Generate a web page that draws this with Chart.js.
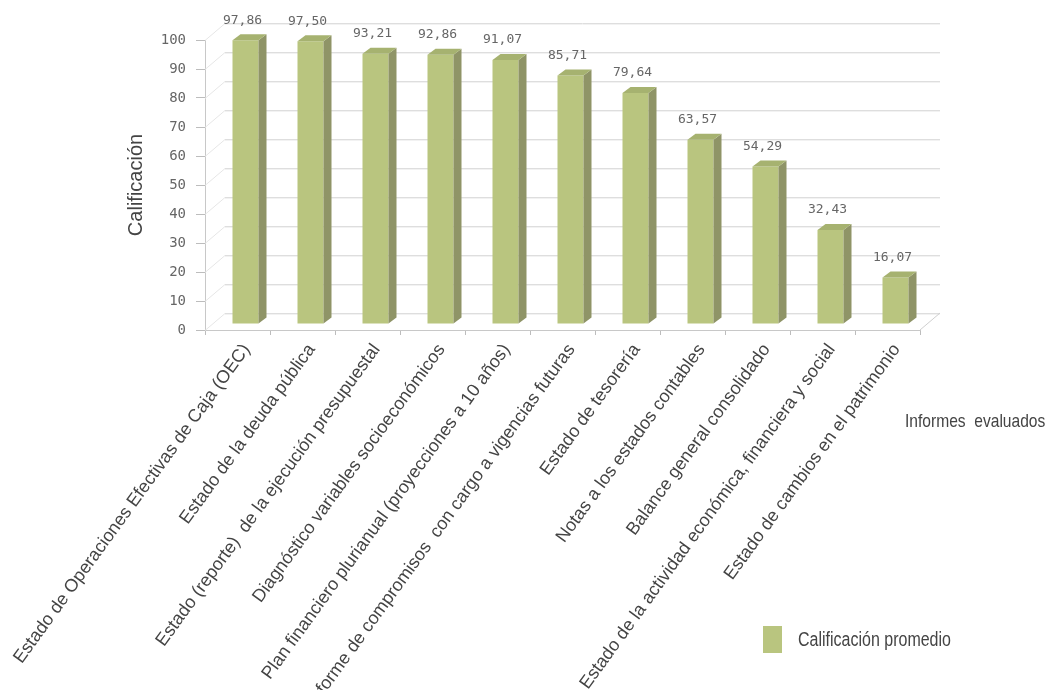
<!DOCTYPE html>
<html>
<head>
<meta charset="utf-8">
<script src="https://cdn.jsdelivr.net/npm/chart.js@4"></script>
<style>
  html, body { margin: 0; padding: 0; background: #fff; }
  .chart-container { position: relative; width: 1049px; height: 690px; }
</style>
</head>
<body>
<div class="chart-container">
  <canvas id="chart"></canvas>
</div>
<script>
const categories = [
  'Estado de Operaciones Efectivas de Caja (OEC)',
  'Estado de la deuda pública',
  'Estado (reporte)  de la ejecución presupuestal',
  'Diagnóstico variables socioeconómicos',
  'Plan financiero plurianual (proyecciones a 10 años)',
  'Informe de compromisos  con cargo a vigencias futuras',
  'Estado de tesorería',
  'Notas a los estados contables',
  'Balance general consolidado',
  'Estado de la actividad económica, financiera y social',
  'Estado de cambios en el patrimonio'
];
const scores = [97.86, 97.50, 93.21, 92.86, 91.07, 85.71, 79.64, 63.57, 54.29, 32.43, 16.07];
const yTicks = [0, 10, 20, 30, 40, 50, 60, 70, 80, 90, 100];
const seriesName = 'Calificación promedio';
const xTitle = 'Informes  evaluados';
const yTitle = 'Calificación';

const FRONT = '#b9c57f';
const SIDE = '#8f9467';
const TOP = '#a6b270';

// depth of the fake 3D box (back wall) and of the bars
const WALL = { dx: 20, dy: 17 };
const BAR = { dx: 8, dy: 6 };

const fmt = v => v.toFixed(2).replace('.', ',');

// back wall grid + side/floor lines, drawn under the bars
const wallPlugin = {
  id: 'wall',
  beforeDatasetsDraw(chart) {
    const { ctx, chartArea: a, scales: { y } } = chart;
    ctx.save();
    ctx.lineWidth = 1;
    yTicks.forEach(v => {
      const py = Math.round(y.getPixelForValue(v)) + 0.5;
      ctx.strokeStyle = '#f2f2f2';
      ctx.beginPath();
      ctx.moveTo(a.left + WALL.dx, py - WALL.dy + 1);
      ctx.lineTo(a.right + WALL.dx, py - WALL.dy + 1);
      ctx.stroke();
      ctx.strokeStyle = '#dedede';
      ctx.beginPath();
      ctx.moveTo(a.left + WALL.dx, py - WALL.dy);
      ctx.lineTo(a.right + WALL.dx, py - WALL.dy);
      ctx.stroke();
      ctx.strokeStyle = '#e6e6e6';
      ctx.beginPath();
      ctx.moveTo(a.left, py);
      ctx.lineTo(a.left + WALL.dx, py - WALL.dy);
      ctx.stroke();
    });
    ctx.strokeStyle = '#cfcfcf';
    ctx.beginPath();
    ctx.moveTo(a.right, a.bottom);
    ctx.lineTo(a.right + WALL.dx, a.bottom - WALL.dy);
    ctx.stroke();
    ctx.restore();
    // shift bars to the middle of the box depth
    ctx.save();
    ctx.translate(BAR.dx, -BAR.dy);
  },
  afterDatasetsDraw(chart) {
    const { ctx } = chart;
    const meta = chart.getDatasetMeta(0);
    meta.data.forEach(bar => {
      const l = bar.x - bar.width / 2, r = bar.x + bar.width / 2;
      ctx.fillStyle = SIDE;
      ctx.beginPath();
      ctx.moveTo(r, bar.y);
      ctx.lineTo(r + BAR.dx, bar.y - BAR.dy);
      ctx.lineTo(r + BAR.dx, bar.base - BAR.dy);
      ctx.lineTo(r, bar.base);
      ctx.closePath();
      ctx.fill();
      ctx.fillStyle = TOP;
      ctx.beginPath();
      ctx.moveTo(l, bar.y);
      ctx.lineTo(l + BAR.dx, bar.y - BAR.dy);
      ctx.lineTo(r + BAR.dx, bar.y - BAR.dy);
      ctx.lineTo(r, bar.y);
      ctx.closePath();
      ctx.fill();
    });
    ctx.restore();

    // value labels
    ctx.save();
    ctx.font = '13px "DejaVu Sans Mono"';
    ctx.fillStyle = '#666';
    ctx.textAlign = 'center';
    ctx.textBaseline = 'middle';
    meta.data.forEach((bar, i) => {
      ctx.fillText(fmt(scores[i]), bar.x + 5, bar.y - 26);
    });
    ctx.restore();
  },
  afterDraw(chart) {
    const { ctx } = chart;
    ctx.save();
    ctx.fillStyle = '#444';
    ctx.textBaseline = 'middle';
    ctx.font = '19px "Liberation Sans", Arial, sans-serif';
    ctx.translate(905, 422);
    ctx.scale(0.82, 1);
    ctx.fillText(xTitle, 0, 0);
    ctx.restore();

    ctx.save();
    ctx.fillStyle = FRONT;
    ctx.fillRect(763, 626, 19, 27);
    ctx.fillStyle = '#444';
    ctx.textBaseline = 'middle';
    ctx.font = '20px "Liberation Sans", Arial, sans-serif';
    ctx.translate(798, 640);
    ctx.scale(0.8, 1);
    ctx.fillText(seriesName, 0, 0);
    ctx.restore();
  }
};

new Chart(document.getElementById('chart'), {
  type: 'bar',
  data: {
    labels: categories,
    datasets: [{
      label: seriesName,
      data: scores,
      backgroundColor: FRONT,
      borderWidth: 0,
      categoryPercentage: 1,
      barPercentage: 0.4
    }]
  },
  options: {
    animation: false,
    responsive: true,
    maintainAspectRatio: false,
    layout: { padding: { left: 120, right: 129, top: 40, bottom: 0 } },
    plugins: {
      legend: { display: false },
      tooltip: { enabled: false }
    },
    scales: {
      x: {
        offset: true,
        grid: { offset: true, drawOnChartArea: false, tickLength: 5, tickColor: '#bdbdbd' },
        border: { color: '#c8c8c8' },
        ticks: {
          autoSkip: false,
          minRotation: 54,
          maxRotation: 54,
          labelOffset: 9,
          padding: 5,
          color: '#444',
          font: { family: '"Liberation Sans", Arial, sans-serif', size: 18 }
        },
        afterFit: s => { s.height = 360; s.paddingLeft = 0; s.paddingRight = 0; }
      },
      y: {
        min: 0,
        max: 100,
        afterBuildTicks: s => { s.ticks = yTicks.map(v => ({ value: v })); },
        grid: { drawOnChartArea: false, tickLength: 9, tickColor: '#bdbdbd' },
        border: { color: '#c8c8c8' },
        ticks: {
          padding: 10,
          color: '#666',
          font: { family: '"DejaVu Sans Mono", monospace', size: 14 }
        },
        title: {
          display: true,
          text: yTitle,
          color: '#444',
          padding: { top: 4, bottom: 0 },
          font: { family: '"Liberation Sans", Arial, sans-serif', size: 20 }
        },
        afterFit: s => { s.width = 85; }
      }
    }
  },
  plugins: [wallPlugin]
});
</script>
</body>
</html>
